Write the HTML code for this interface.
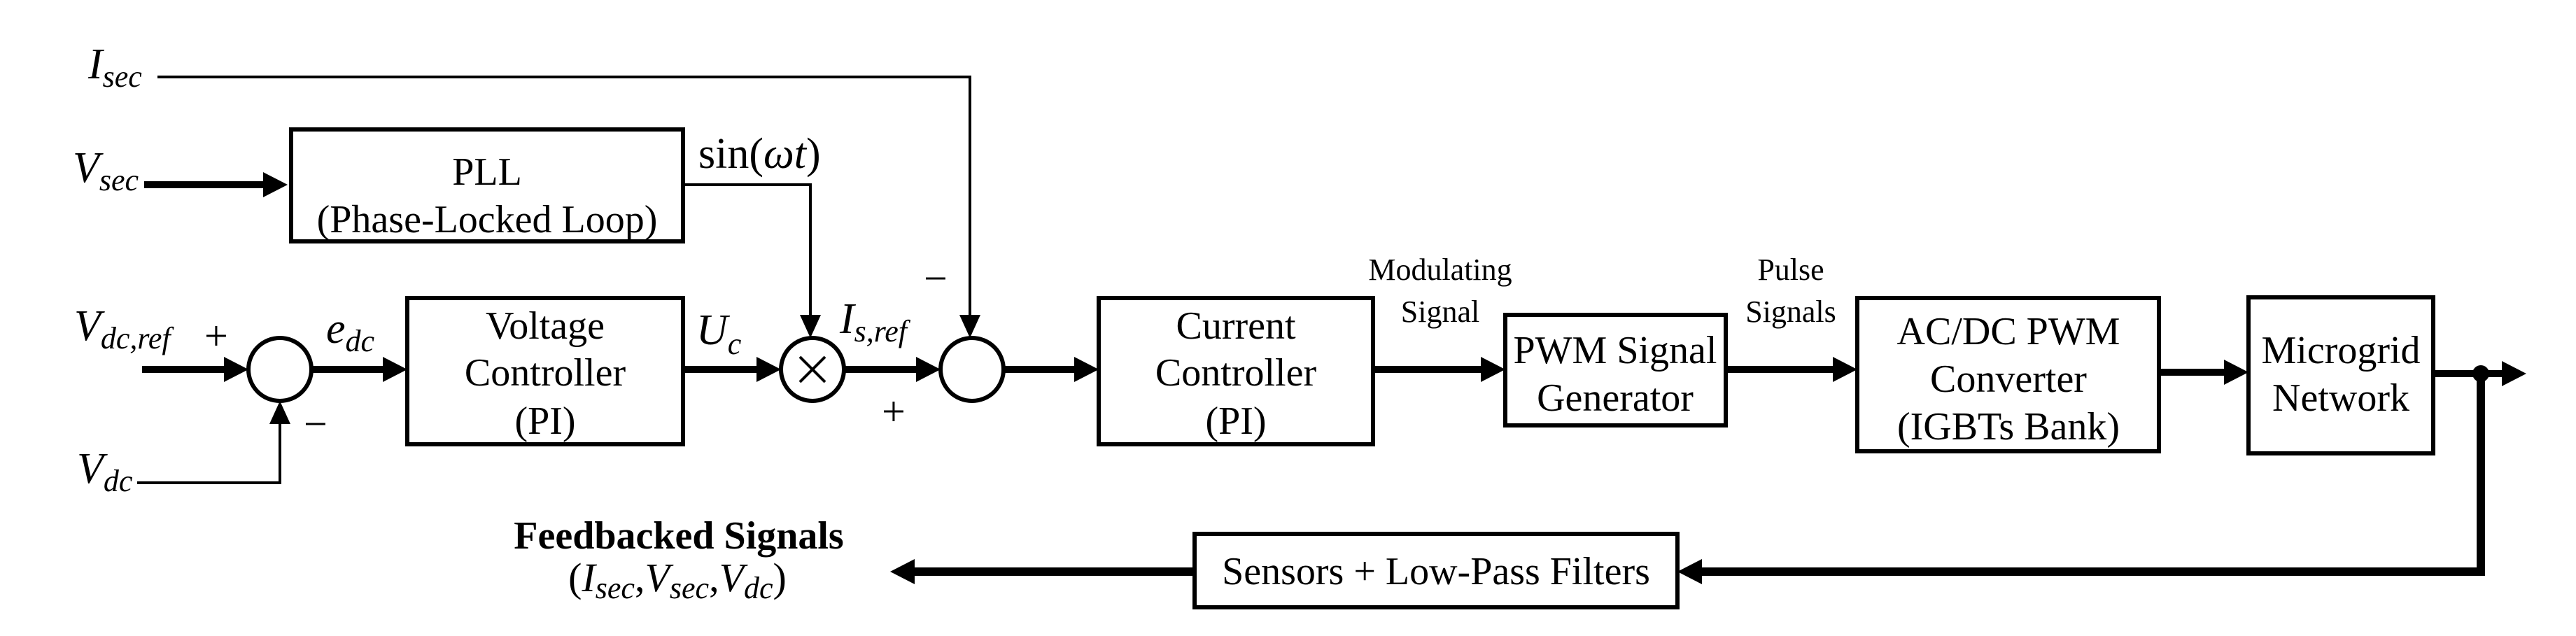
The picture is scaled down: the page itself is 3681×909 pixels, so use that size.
<!DOCTYPE html>
<html><head><meta charset="utf-8"><style>
html,body{margin:0;padding:0;background:#fff;}
svg{display:block;}
svg text{font-family:"Liberation Serif","Times New Roman","DejaVu Serif",serif;fill:#000;}
.bx{font-size:56px;text-anchor:middle;}
.m{font-style:italic;font-size:62px;}
.s{font-size:44px;}
</style></head><body>
<svg width="3681" height="909" viewBox="0 0 3681 909" xmlns="http://www.w3.org/2000/svg" font-family="Liberation Serif, serif">
<g fill="none" stroke="#000">
<rect x="416" y="185" width="560" height="160" stroke-width="6"/>
<rect x="582" y="426" width="394" height="209" stroke-width="6"/>
<rect x="1570" y="426" width="392" height="209" stroke-width="6"/>
<rect x="2151" y="450" width="315" height="158" stroke-width="6"/>
<rect x="2654" y="426" width="431" height="219" stroke-width="6"/>
<rect x="3213" y="425" width="264" height="223" stroke-width="6"/>
<rect x="1707" y="763" width="690" height="105" stroke-width="6"/>
<circle cx="400" cy="528" r="45" stroke-width="6"/>
<circle cx="1161" cy="528" r="45" stroke-width="6"/>
<circle cx="1389" cy="528" r="45" stroke-width="6"/>
<line x1="1143" y1="510" x2="1179" y2="546" stroke-width="4"/>
<line x1="1179" y1="510" x2="1143" y2="546" stroke-width="4"/>
<polyline points="225,110 1386,110 1386,450" stroke-width="4"/>
<polyline points="976,264 1158,264 1158,450" stroke-width="4"/>
<polyline points="196,690 400,690 400,605" stroke-width="4"/>
<line x1="206" y1="264" x2="380" y2="264" stroke-width="10"/>
<line x1="203" y1="528" x2="325" y2="528" stroke-width="10"/>
<line x1="445" y1="528" x2="550" y2="528" stroke-width="10"/>
<line x1="976" y1="528" x2="1082" y2="528" stroke-width="10"/>
<line x1="1206" y1="528" x2="1312" y2="528" stroke-width="10"/>
<line x1="1434" y1="528" x2="1540" y2="528" stroke-width="10"/>
<line x1="1962" y1="528" x2="2120" y2="528" stroke-width="10"/>
<line x1="2466" y1="528" x2="2622" y2="528" stroke-width="10"/>
<line x1="3085" y1="532" x2="3182" y2="532" stroke-width="10"/>
<line x1="3477" y1="534" x2="3580" y2="534" stroke-width="10"/>
<polyline points="3545,534 3545,817 2428,817" stroke-width="12"/>
<line x1="1707" y1="817" x2="1305" y2="817" stroke-width="12"/>
</g>
<g fill="#000">
<polygon points="411,264 376,246 376,282"/>
<polygon points="355,528 320,510 320,546"/>
<polygon points="582,528 547,510 547,546"/>
<polygon points="1116,528 1081,510 1081,546"/>
<polygon points="1344,528 1309,510 1309,546"/>
<polygon points="1570,528 1535,510 1535,546"/>
<polygon points="2151,528 2116,510 2116,546"/>
<polygon points="2654,528 2619,510 2619,546"/>
<polygon points="3213,532 3178,514 3178,550"/>
<polygon points="3610,534 3575,516 3575,552"/>
<polygon points="1158,483 1143,450 1173,450"/>
<polygon points="1386,483 1371,450 1401,450"/>
<polygon points="400,573 385,606 415,606"/>
<polygon points="2397,817 2432,799 2432,835"/>
<polygon points="1272,817 1307,799 1307,835"/>
<circle cx="3545" cy="534" r="12"/>
</g>
<text class="bx" x="696" y="264">PLL</text>
<text class="bx" x="696" y="332">(Phase-Locked Loop)</text>
<text class="bx" x="779" y="484">Voltage</text>
<text class="bx" x="779" y="551">Controller</text>
<text class="bx" x="779" y="620">(PI)</text>
<text class="bx" x="1766" y="484">Current</text>
<text class="bx" x="1766" y="551">Controller</text>
<text class="bx" x="1766" y="620">(PI)</text>
<text class="bx" x="2308" y="519">PWM Signal</text>
<text class="bx" x="2308" y="587">Generator</text>
<text class="bx" x="2870" y="492">AC/DC PWM</text>
<text class="bx" x="2870" y="560">Converter</text>
<text class="bx" x="2870" y="628">(IGBTs Bank)</text>
<text class="bx" x="3345" y="519">Microgrid</text>
<text class="bx" x="3345" y="587">Network</text>
<text class="bx" x="2052" y="835">Sensors + Low-Pass Filters</text>
<text class="bx" x="2058" y="400" style="font-size:44px">Modulating</text>
<text class="bx" x="2058" y="460" style="font-size:44px">Signal</text>
<text class="bx" x="2559" y="400" style="font-size:44px">Pulse</text>
<text class="bx" x="2559" y="460" style="font-size:44px">Signals</text>
<text class="m" x="126" y="112">I<tspan class="s" dy="12">sec</tspan></text>
<text class="m" x="104" y="260">V<tspan class="s" dy="12">sec</tspan></text>
<text class="m" x="106" y="486">V<tspan class="s" dy="12">dc,ref</tspan></text>
<text class="m" x="110" y="690">V<tspan class="s" dy="12">dc</tspan></text>
<text class="m" x="466" y="490">e<tspan class="s" dy="12">dc</tspan></text>
<text class="m" x="995" y="492">U<tspan class="s" dy="14">c</tspan></text>
<text class="m" x="1200" y="476">I<tspan class="s" dy="12">s,ref</tspan></text>
<text x="998" y="240" style="font-size:62px">sin(<tspan font-style="italic">ωt</tspan>)</text>
<text x="292" y="500" style="font-size:60px">+</text>
<text x="1260" y="608" style="font-size:60px">+</text>
<text x="434" y="626" style="font-size:60px">−</text>
<text x="1320" y="418" style="font-size:60px">−</text>
<text x="970" y="784" text-anchor="middle" style="font-size:56px;font-weight:bold">Feedbacked Signals</text>
<text x="968" y="845" text-anchor="middle" style="font-size:58px">(<tspan font-style="italic">I</tspan><tspan font-style="italic" class="s" dy="10">sec</tspan><tspan dy="-10">,</tspan><tspan font-style="italic">V</tspan><tspan font-style="italic" class="s" dy="10">sec</tspan><tspan dy="-10">,</tspan><tspan font-style="italic">V</tspan><tspan font-style="italic" class="s" dy="10">dc</tspan><tspan dy="-10">)</tspan></text>
</svg>
</body></html>
